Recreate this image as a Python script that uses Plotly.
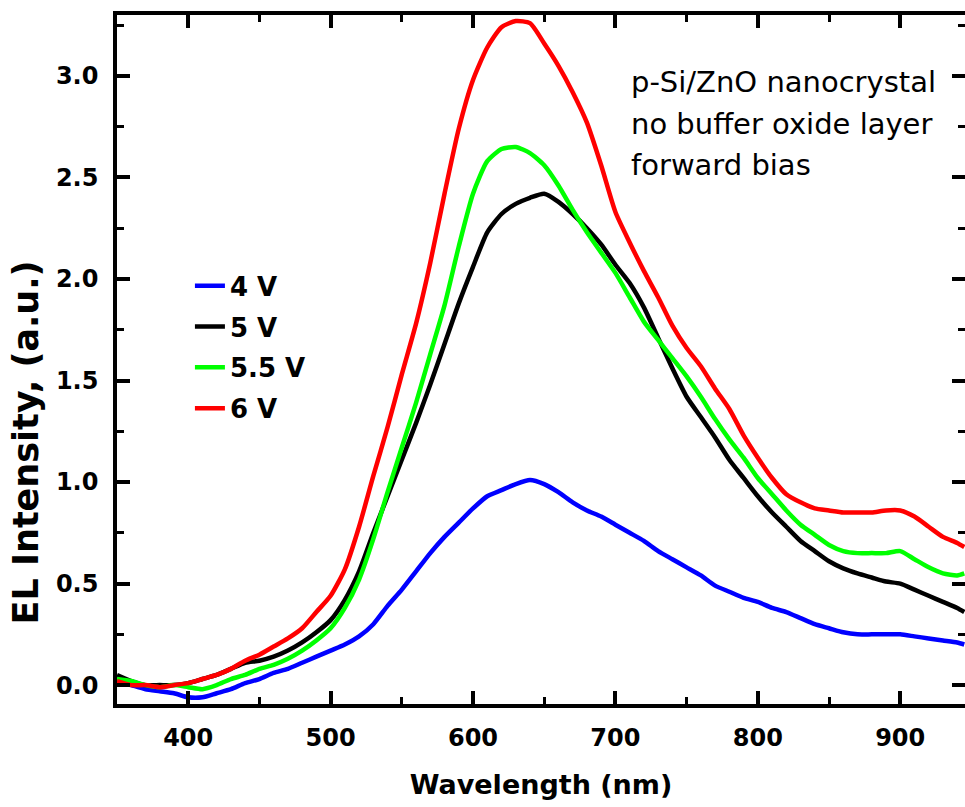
import plotly.graph_objects as go

wavelength = [350, 360, 370, 380, 390, 400, 410, 420, 430, 440, 450, 460, 470, 480, 490,
              500, 510, 520, 530, 540, 550, 560, 570, 580, 590, 600, 610, 620, 630, 640,
              650, 660, 670, 680, 690, 700, 710, 720, 730, 740, 750, 760, 770, 780, 790,
              800, 810, 820, 830, 840, 850, 860, 870, 880, 890, 900, 910, 920, 930, 940, 945]

v4 = [0.02, 0.00, -0.02, -0.03, -0.04, -0.06, -0.06, -0.04, -0.02, 0.01, 0.03, 0.06, 0.08, 0.11, 0.14,
      0.17, 0.20, 0.24, 0.30, 0.39, 0.47, 0.56, 0.65, 0.73, 0.80, 0.87, 0.93, 0.96, 0.99, 1.01,
      0.99, 0.95, 0.90, 0.86, 0.83, 0.79, 0.75, 0.71, 0.66, 0.62, 0.58, 0.54, 0.49, 0.46, 0.43,
      0.41, 0.38, 0.36, 0.33, 0.30, 0.28, 0.26, 0.25, 0.25, 0.25, 0.25, 0.24, 0.23, 0.22, 0.21, 0.20]

v5 = [0.05, 0.02, 0.00, 0.00, 0.00, 0.01, 0.03, 0.05, 0.08, 0.11, 0.12, 0.14, 0.17, 0.21, 0.26,
      0.32, 0.42, 0.56, 0.75, 0.93, 1.11, 1.29, 1.48, 1.68, 1.88, 2.06, 2.23, 2.32, 2.37, 2.40,
      2.42, 2.38, 2.32, 2.25, 2.17, 2.07, 1.98, 1.86, 1.71, 1.56, 1.42, 1.32, 1.22, 1.11, 1.02,
      0.93, 0.85, 0.78, 0.71, 0.66, 0.61, 0.575, 0.55, 0.53, 0.51, 0.50, 0.47, 0.44, 0.41, 0.38, 0.36]

v55 = [0.03, 0.02, 0.00, -0.01, 0.00, -0.01, -0.02, 0.00, 0.03, 0.05, 0.08, 0.10, 0.13, 0.17, 0.22,
       0.28, 0.38, 0.52, 0.72, 0.95, 1.17, 1.39, 1.63, 1.87, 2.16, 2.42, 2.58, 2.64, 2.65, 2.62,
       2.56, 2.46, 2.34, 2.23, 2.13, 2.03, 1.91, 1.79, 1.70, 1.61, 1.52, 1.42, 1.31, 1.21, 1.12,
       1.02, 0.94, 0.86, 0.79, 0.74, 0.69, 0.66, 0.65, 0.65, 0.65, 0.66, 0.62, 0.58, 0.55, 0.54, 0.55]

v6 = [0.02, 0.00, 0.00, -0.01, 0.00, 0.01, 0.03, 0.05, 0.08, 0.12, 0.15, 0.19, 0.23, 0.28, 0.36,
      0.44, 0.57, 0.78, 1.03, 1.27, 1.53, 1.78, 2.08, 2.42, 2.74, 2.98, 3.14, 3.24, 3.27, 3.26,
      3.16, 3.05, 2.92, 2.77, 2.56, 2.33, 2.18, 2.04, 1.91, 1.77, 1.66, 1.57, 1.46, 1.36, 1.23,
      1.12, 1.02, 0.94, 0.90, 0.87, 0.86, 0.85, 0.85, 0.85, 0.86, 0.86, 0.83, 0.78, 0.73, 0.70, 0.68]

series_names = ["4 V", "5 V", "5.5 V", "6 V"]
series_values = [v4, v5, v55, v6]
series_colors = ["#0000FF", "#000000", "#00FF00", "#FF0000"]

note_lines = ["p-Si/ZnO nanocrystal", "no buffer oxide layer", "forward bias"]
note_y = [0.9028, 0.8418, 0.7823]

fig = go.Figure()
for name, vals, col in zip(series_names, series_values, series_colors):
    fig.add_trace(go.Scatter(x=wavelength, y=vals, name=name, mode="lines",
                             legendgroup=name,
                             line=dict(color=col, width=4.5, shape="spline", smoothing=0.6)))

axis_common = dict(showline=True, linewidth=3.5, linecolor="black", mirror="allticks",
                   ticks="inside", tickwidth=3.5, tickcolor="black", ticklen=13,
                   showgrid=False, zeroline=False,
                   tickfont=dict(family="DejaVu Sans", size=24, color="black", weight="bold"))

fig.update_xaxes(range=[350, 945.5], dtick=100, tick0=0,
                 minor=dict(dtick=50, ticks="inside", ticklen=7, tickwidth=3, tickcolor="black"),
                 ticklabelstandoff=9,
                 title=dict(text="Wavelength (nm)", standoff=26,
                            font=dict(family="DejaVu Sans", size=27, color="black", weight="bold")),
                 **axis_common)
fig.update_yaxes(range=[-0.093, 3.30], dtick=0.5, tick0=0, tickformat=".1f",
                 minor=dict(dtick=0.25, ticks="inside", ticklen=7, tickwidth=3, tickcolor="black"),
                 ticklabelstandoff=10,
                 **axis_common)

fig.add_annotation(text="EL Intensity, (a.u.)", textangle=-90, xref="paper", yref="paper",
                   x=-0.107, y=0.38, xanchor="center", yanchor="middle", showarrow=False,
                   font=dict(family="DejaVu Sans", size=35, color="black", weight="bold"))

for line_text, yy in zip(note_lines, note_y):
    fig.add_annotation(text=line_text, xref="paper", yref="paper", x=0.604, y=yy,
                       xanchor="left", yanchor="middle", align="left", showarrow=False,
                       font=dict(family="DejaVu Sans", size=29, color="black"))

fig.update_layout(width=965, height=807, margin=dict(l=117, r=0, t=15, b=103, autoexpand=False),
                  paper_bgcolor="white", plot_bgcolor="white",
                  font=dict(family="DejaVu Sans", color="black"),
                  legend=dict(x=0.086, y=0.641, xanchor="left", yanchor="top",
                              bgcolor="rgba(0,0,0,0)", tracegroupgap=4,
                              font=dict(family="DejaVu Sans", size=26, color="black", weight="bold")))

fig.write_html("out.html")
